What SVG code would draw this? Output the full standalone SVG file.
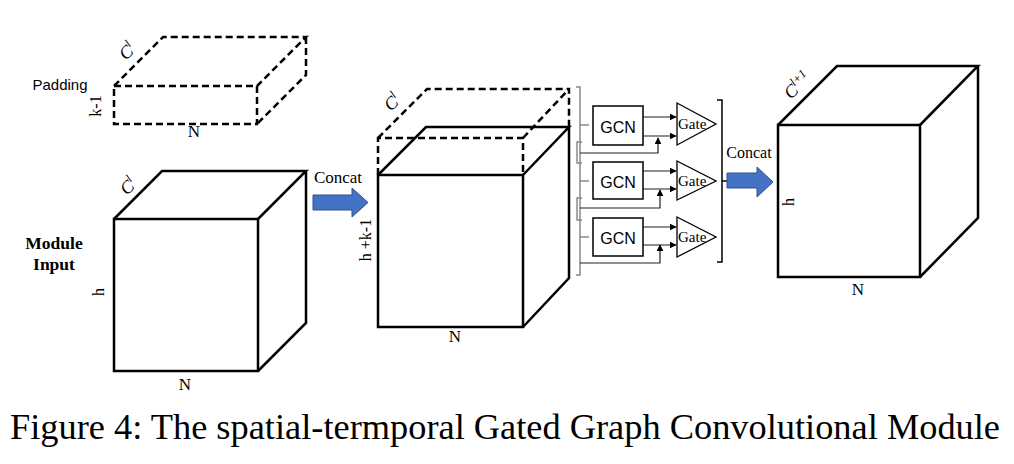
<svg xmlns="http://www.w3.org/2000/svg" width="1014" height="464" viewBox="0 0 1014 464">
<defs>
<marker id="ah" viewBox="0 0 10 10" refX="9" refY="5" markerWidth="7" markerHeight="7" orient="auto" markerUnits="userSpaceOnUse">
<path d="M0,0 L10,5 L0,10 Z" fill="#000"/>
</marker>
</defs>
<style>
.cube{fill:none;stroke:#000;stroke-width:2.5;stroke-linejoin:miter}
.dash{fill:none;stroke:#000;stroke-width:2.5;stroke-dasharray:7,4}
.br{fill:none;stroke:#8a8a8a;stroke-width:1.5}
.ln{fill:none;stroke:#222;stroke-width:1.2}
.box{fill:#fff;stroke:#000;stroke-width:1.5}
.gate{fill:#fff;stroke:#000;stroke-width:1.3}
.blue{fill:#4472C4;stroke:#2F528F;stroke-width:1}
.serif{font-family:"Liberation Serif","Times New Roman",serif;fill:#000}
.sans{font-family:"Liberation Sans",Arial,sans-serif;fill:#000}
.ital{font-family:"Liberation Serif","Times New Roman",serif;font-style:italic;font-size:18px;fill:#000}
</style>

<g id="padding">
<rect x="114" y="86" width="143" height="38" class="dash"/>
<path d="M114,86 L163,37 L306,37 L257,86 M306,37 L306,75 L257,124" class="dash"/>
<text x="60" y="90" class="sans" font-size="15" text-anchor="middle">Padding</text>
<text transform="translate(101,106) rotate(-90)" class="serif" font-size="16" text-anchor="middle">k-1</text>
<text x="194" y="137" class="serif" font-size="17" text-anchor="middle">N</text>
<text transform="translate(126,61) rotate(-45)" class="ital">C<tspan dy="-7" font-size="12">l</tspan></text>
</g>

<g id="module-input">
<rect x="114" y="219" width="144" height="152" class="cube"/>
<path d="M114,219 L162,171 L306,171 L258,219 M306,171 L306,323 L258,371" class="cube"/>
<text x="54" y="249" class="serif" font-size="17.5" font-weight="bold" text-anchor="middle">Module</text>
<text x="54" y="270" class="serif" font-size="17.5" font-weight="bold" text-anchor="middle">Input</text>
<text transform="translate(104,292) rotate(-90)" class="serif" font-size="16" text-anchor="middle">h</text>
<text x="185" y="390" class="serif" font-size="17" text-anchor="middle">N</text>
<text transform="translate(127,196) rotate(-45)" class="ital">C<tspan dy="-7" font-size="12">l</tspan></text>
</g>

<g id="concat1">
<path d="M313,195 H352 V188 L368,202.5 L352,217 V210 H313 Z" class="blue"/>
<text x="338" y="183" class="serif" font-size="17" text-anchor="middle">Concat</text>
</g>

<g id="concat-cube">
<rect x="378" y="175" width="145" height="152" class="cube"/>
<path d="M378,175 L426,127 L569,127 L523,175 M569,127 L569,278 L523,327" class="cube"/>
<path d="M378,175 L378,138 L523,138 L523,175 M378,138 L427,89 L569,89 L569,127 M523,138 L569,89" class="dash"/>
<text transform="translate(371,240) rotate(-90)" class="serif" font-size="16" text-anchor="middle">h +k-1</text>
<text x="455" y="342" class="serif" font-size="17" text-anchor="middle">N</text>
<text transform="translate(391,112) rotate(-45)" class="ital">C<tspan dy="-7" font-size="12">l</tspan></text>
</g>

<g id="connectors">
<path d="M576,87 H580 V275 H576" class="br"/>
<path d="M582,142 H577 V163 H582 M582,198 H577 V220 H582" class="br"/>
<path d="M580,125 H589 M580,181 H589 M580,237 H589" class="br"/>
<path d="M580,153 H658 V138" class="ln" marker-end="url(#ah)"/>
<path d="M580,208 H660 V190" class="ln" marker-end="url(#ah)"/>
<path d="M580,263 H660 V245" class="ln" marker-end="url(#ah)"/>
<path d="M643,117 H676" class="ln" marker-end="url(#ah)"/>
<path d="M643,136 H676" class="ln" marker-end="url(#ah)"/>
<path d="M643,171 H676" class="ln" marker-end="url(#ah)"/>
<path d="M643,189 H676" class="ln" marker-end="url(#ah)"/>
<path d="M643,227 H676" class="ln" marker-end="url(#ah)"/>
<path d="M643,245 H676" class="ln" marker-end="url(#ah)"/>
<path d="M717,100 H722 V262 H717 M722,181 H727" fill="none" stroke="#000" stroke-width="1.5"/>
</g>

<g id="gcn1">
<rect x="593" y="106" width="50" height="39" class="box"/>
<text x="618" y="133" class="sans" font-size="16" text-anchor="middle">GCN</text>
</g>
<g id="gcn2">
<rect x="593" y="162" width="50" height="37" class="box"/>
<text x="618" y="188" class="sans" font-size="16" text-anchor="middle">GCN</text>
</g>
<g id="gcn3">
<rect x="593" y="218" width="50" height="38" class="box"/>
<text x="618" y="244" class="sans" font-size="16" text-anchor="middle">GCN</text>
</g>

<g id="gate1">
<path d="M677,103 L677,145 L716,124 Z" class="gate"/>
<text x="678" y="129" class="serif" font-size="15">Gate</text>
</g>
<g id="gate2">
<path d="M677,161 L677,200 L716,181 Z" class="gate"/>
<text x="678" y="186" class="serif" font-size="15">Gate</text>
</g>
<g id="gate3">
<path d="M677,217 L677,257 L716,237 Z" class="gate"/>
<text x="678" y="242" class="serif" font-size="15">Gate</text>
</g>

<g id="concat2">
<path d="M727,173 H757 V167 L773,182 L757,197 V188 H727 Z" class="blue"/>
<text x="749" y="158" class="serif" font-size="16" text-anchor="middle">Concat</text>
</g>

<g id="output-cube">
<rect x="778" y="125" width="142" height="152" class="cube"/>
<path d="M778,125 L837,66 L978,66 L920,125 M978,66 L978,218 L920,277" class="cube"/>
<text transform="translate(794,202) rotate(-90)" class="serif" font-size="16" text-anchor="middle">h</text>
<text x="858" y="295" class="serif" font-size="17" text-anchor="middle">N</text>
<text transform="translate(791,100) rotate(-45)" class="ital">C<tspan dy="-7" font-size="12">l+1</tspan></text>
</g>

<g id="caption">
<text x="10" y="439" class="serif" font-size="36" textLength="990" lengthAdjust="spacingAndGlyphs">Figure 4: The spatial-termporal Gated Graph Convolutional Module</text>
</g>
</svg>
